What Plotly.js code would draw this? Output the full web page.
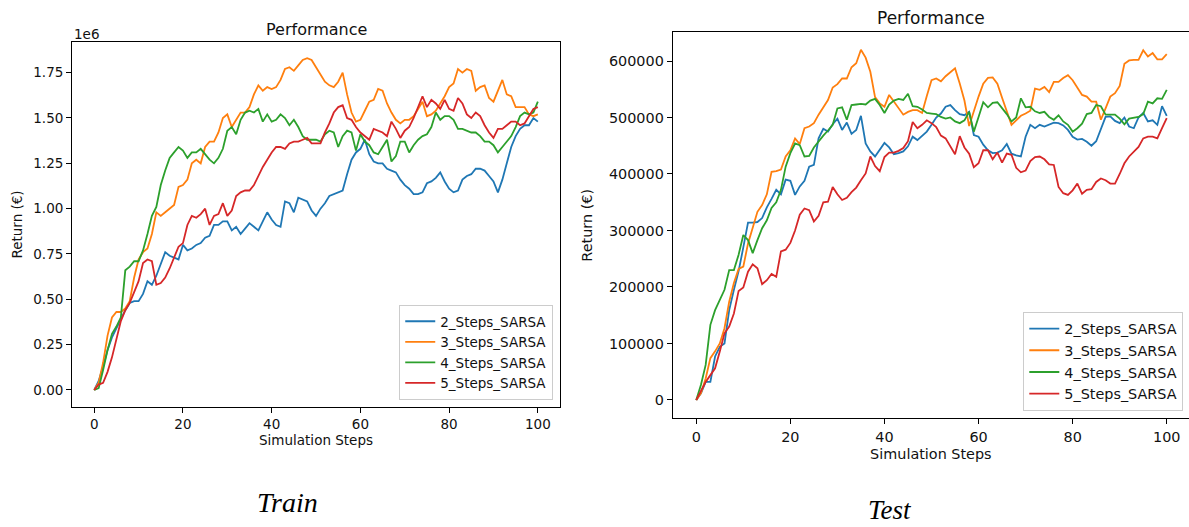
<!DOCTYPE html>
<html><head><meta charset="utf-8">
<script src="https://cdn.plot.ly/plotly-3.0.1.min.js"></script>
<style>html,body{margin:0;padding:0;background:#fff}#chart{width:1189px;height:527px}</style>
</head><body><div id="chart"></div>
<script>
// Simulation steps 0..100
const steps = [];
for (let i = 0; i <= 100; i++) steps.push(i);

const seriesNames = ['2_Steps_SARSA', '3_Steps_SARSA', '4_Steps_SARSA', '5_Steps_SARSA'];
const seriesColors = ['#1f77b4', '#ff7f0e', '#2ca02c', '#d62728'];

// Train returns (in units of 1e6 €)
const train2 = [0,0.05,0.13,0.22,0.29,0.34,0.39,0.44,0.48,0.49,0.49,0.53,0.60,0.58,0.63,0.70,0.76,0.74,0.73,0.72,
  0.80,0.77,0.78,0.80,0.81,0.84,0.85,0.91,0.91,0.93,0.93,0.88,0.90,0.86,0.89,0.92,0.90,0.88,0.93,0.98,
  0.94,0.91,0.90,1.04,1.03,0.98,1.06,1.05,1.04,0.99,0.96,1.00,1.03,1.07,1.08,1.09,1.10,1.19,1.27,1.31,
  1.33,1.38,1.30,1.26,1.25,1.25,1.22,1.21,1.20,1.16,1.13,1.11,1.08,1.08,1.09,1.14,1.15,1.17,1.20,1.15,
  1.11,1.09,1.10,1.16,1.18,1.19,1.22,1.22,1.21,1.18,1.15,1.09,1.16,1.25,1.34,1.40,1.44,1.46,1.46,1.50,1.48];
const train3 = [0,0.04,0.15,0.30,0.40,0.43,0.43,0.45,0.49,0.62,0.72,0.76,0.78,0.86,0.98,0.96,0.98,1.00,1.02,1.12,
  1.13,1.16,1.25,1.27,1.25,1.34,1.37,1.37,1.42,1.50,1.52,1.45,1.49,1.53,1.53,1.56,1.63,1.68,1.65,1.67,
  1.66,1.67,1.71,1.77,1.78,1.76,1.79,1.82,1.83,1.82,1.78,1.74,1.70,1.68,1.67,1.70,1.75,1.63,1.53,1.48,
  1.49,1.54,1.59,1.60,1.66,1.65,1.58,1.53,1.49,1.47,1.49,1.49,1.51,1.55,1.59,1.51,1.52,1.54,1.58,1.62,
  1.67,1.69,1.77,1.75,1.77,1.76,1.65,1.67,1.68,1.61,1.59,1.65,1.71,1.63,1.62,1.56,1.56,1.56,1.52,1.51,1.52];
const train4 = [0,0.01,0.11,0.22,0.31,0.35,0.40,0.66,0.68,0.71,0.71,0.77,0.86,0.96,1.01,1.13,1.21,1.28,1.31,1.34,
  1.32,1.28,1.31,1.31,1.33,1.30,1.27,1.25,1.28,1.33,1.43,1.45,1.41,1.49,1.53,1.54,1.53,1.55,1.48,1.52,
  1.48,1.49,1.52,1.50,1.46,1.49,1.45,1.40,1.38,1.38,1.38,1.37,1.41,1.43,1.42,1.34,1.40,1.43,1.42,1.32,
  1.41,1.37,1.35,1.31,1.30,1.34,1.38,1.26,1.29,1.37,1.37,1.31,1.35,1.38,1.40,1.41,1.45,1.53,1.49,1.51,
  1.51,1.49,1.44,1.44,1.43,1.42,1.42,1.40,1.37,1.37,1.35,1.31,1.34,1.37,1.40,1.45,1.51,1.53,1.52,1.53,1.59];
const train5 = [0,0.03,0.04,0.10,0.18,0.28,0.38,0.44,0.48,0.54,0.60,0.70,0.72,0.71,0.58,0.59,0.62,0.67,0.73,0.79,
  0.81,0.91,0.96,0.95,0.97,1.00,0.91,0.96,0.97,1.03,0.96,0.99,1.07,1.09,1.10,1.10,1.13,1.18,1.23,1.27,
  1.31,1.34,1.34,1.33,1.36,1.37,1.37,1.38,1.39,1.36,1.36,1.36,1.42,1.47,1.53,1.56,1.57,1.50,1.49,1.45,
  1.42,1.40,1.38,1.44,1.43,1.42,1.40,1.48,1.44,1.39,1.43,1.45,1.50,1.56,1.62,1.56,1.60,1.58,1.55,1.60,
  1.55,1.54,1.61,1.58,1.52,1.50,1.53,1.51,1.46,1.42,1.39,1.44,1.44,1.46,1.48,1.48,1.46,1.47,1.51,1.55,1.56];

// Test returns (€)
const test2 = [0,12000,32000,32000,77000,94000,100000,159000,195000,228000,270000,314000,314000,315000,322000,341000,356000,372000,364000,390000,
  388000,363000,378000,388000,413000,416000,463000,480000,475000,488000,498000,478000,491000,471000,478000,503000,454000,440000,431000,444000,
  455000,447000,435000,437000,440000,449000,466000,460000,468000,475000,487000,500000,507000,519000,522000,513000,506000,504000,510000,469000,
  466000,452000,442000,437000,438000,442000,453000,436000,433000,431000,466000,487000,481000,487000,484000,487000,491000,490000,486000,478000,
  466000,461000,462000,457000,450000,458000,478000,501000,502000,494000,490000,500000,484000,481000,500000,508000,493000,495000,487000,520000,503000];
const test3 = [0,12000,38000,74000,86000,100000,127000,174000,207000,232000,236000,277000,305000,333000,345000,364000,404000,405000,408000,431000,
  442000,463000,453000,481000,484000,490000,505000,518000,531000,553000,559000,569000,569000,589000,596000,620000,606000,581000,536000,525000,
  519000,540000,528000,515000,505000,510000,513000,513000,508000,538000,566000,569000,564000,573000,580000,587000,560000,530000,485000,513000,
  537000,560000,570000,571000,560000,535000,510000,487000,495000,503000,507000,512000,551000,549000,554000,545000,563000,563000,570000,575000,
  566000,553000,540000,537000,528000,528000,496000,516000,537000,543000,556000,595000,601000,602000,602000,619000,608000,614000,603000,603000,612000];
const test4 = [0,27000,62000,133000,159000,177000,195000,230000,230000,257000,292000,283000,260000,283000,304000,318000,340000,350000,372000,413000,
  437000,454000,451000,431000,432000,447000,458000,468000,477000,487000,516000,518000,496000,522000,523000,524000,523000,530000,533000,522000,
  508000,523000,530000,533000,531000,542000,520000,519000,514000,508000,507000,506000,501000,498000,500000,493000,490000,495000,510000,475000,
  501000,527000,518000,526000,527000,517000,506000,493000,500000,534000,518000,519000,511000,508000,510000,501000,496000,504000,493000,487000,
  475000,481000,489000,506000,508000,522000,520000,505000,505000,505000,498000,488000,498000,499000,501000,506000,528000,525000,534000,533000,549000];
const test5 = [0,15000,32000,44000,56000,86000,118000,130000,153000,193000,199000,227000,240000,233000,205000,212000,223000,218000,263000,266000,
  278000,300000,328000,339000,336000,316000,326000,350000,351000,377000,364000,354000,358000,368000,376000,389000,401000,431000,414000,405000,
  430000,438000,438000,441000,446000,458000,492000,481000,487000,495000,490000,483000,468000,463000,448000,435000,467000,447000,436000,412000,
  419000,442000,442000,426000,438000,420000,436000,434000,411000,403000,406000,423000,430000,431000,426000,417000,416000,377000,366000,363000,
  371000,383000,365000,372000,373000,386000,392000,389000,383000,383000,400000,419000,431000,440000,448000,463000,466000,466000,463000,481000,499000];

const trainSeries = [train2, train3, train4, train5];
const testSeries = [test2, test3, test4, test5];

const traces = [];
trainSeries.forEach((ys, i) => {
  traces.push({x: steps, y: ys, type: 'scatter', mode: 'lines', name: seriesNames[i],
    line: {color: seriesColors[i], width: 1.8}, xaxis: 'x', yaxis: 'y', legend: 'legend'});
});
testSeries.forEach((ys, i) => {
  traces.push({x: steps, y: ys, type: 'scatter', mode: 'lines', name: seriesNames[i],
    line: {color: seriesColors[i], width: 1.8}, xaxis: 'x2', yaxis: 'y2', legend: 'legend2'});
});

const txt = '#111111';
const fL = 13.5, fR = 14.4;
function ax(extra) {
  return Object.assign({showline: true, linecolor: '#000', linewidth: 1, mirror: true,
    ticks: 'outside', ticklen: 5, tickwidth: 1, tickcolor: '#000',
    showgrid: false, zeroline: false, fixedrange: true}, extra);
}

const layout = {
  width: 1189, height: 527,
  margin: {l: 0, r: 0, t: 0, b: 0},
  paper_bgcolor: '#ffffff', plot_bgcolor: '#ffffff',
  font: {family: 'DejaVu Sans', color: txt},
  showlegend: true,
  xaxis: ax({domain: [0.0606, 0.4710], range: [-5, 105], tick0: 0, dtick: 20, anchor: 'y',
    tickfont: {size: fL, color: txt},
    title: {text: 'Simulation Steps', font: {size: fL, color: txt}, standoff: 4}}),
  yaxis: ax({domain: [0.2277, 0.9203], range: [-0.0938, 1.919], tick0: 0, dtick: 0.25, tickformat: '.2f', anchor: 'x',
    tickfont: {size: fL, color: txt},
    title: {text: 'Return (€)', font: {size: fL, color: txt}, standoff: 7}}),
  xaxis2: ax({domain: [0.5658, 1], range: [-5, 104.73], tick0: 0, dtick: 20, anchor: 'y2',
    tickfont: {size: fR, color: txt},
    title: {text: 'Simulation Steps', font: {size: fR, color: txt}, standoff: 5}}),
  yaxis2: ax({domain: [0.2063, 0.9387], range: [-32400, 650800], tick0: 0, dtick: 100000, tickformat: 'd', anchor: 'x2',
    tickfont: {size: fR, color: txt},
    title: {text: 'Return (€)', font: {size: fR, color: txt}, standoff: 12}}),
  legend: {x: 0.4653, y: 0.241, xanchor: 'right', yanchor: 'bottom', bgcolor: 'rgba(255,255,255,0.85)',
    bordercolor: '#cccccc', borderwidth: 1, font: {size: fL, color: txt}, traceorder: 'normal'},
  legend2: {x: 0.9952, y: 0.2207, xanchor: 'right', yanchor: 'bottom', bgcolor: 'rgba(255,255,255,0.85)',
    bordercolor: '#cccccc', borderwidth: 1, font: {size: fR, color: txt}, traceorder: 'normal'},
  annotations: [
    {text: 'Performance', xref: 'paper', yref: 'paper', x: 0.2658, y: 0.9431, xanchor: 'center', yanchor: 'middle',
      showarrow: false, font: {size: 16, color: txt}},
    {text: 'Performance', xref: 'paper', yref: 'paper', x: 0.783, y: 0.9658, xanchor: 'center', yanchor: 'middle',
      showarrow: false, font: {size: 17, color: txt}},
    {text: '1e6', xref: 'paper', yref: 'paper', x: 0.0606, y: 0.9355, xanchor: 'left', yanchor: 'middle',
      showarrow: false, font: {size: fL, color: txt}},
    {text: '<i>Train</i>', xref: 'paper', yref: 'paper', x: 0.2422, y: 0.0474, xanchor: 'center', yanchor: 'middle',
      showarrow: false, font: {size: 28, family: 'Liberation Serif', color: '#000'}},
    {text: '<i>Test</i>', xref: 'paper', yref: 'paper', x: 0.7485, y: 0.0, xanchor: 'center', yanchor: 'bottom',
      showarrow: false, font: {size: 27, family: 'Liberation Serif', color: '#000'}}
  ]
};

Plotly.newPlot('chart', traces, layout, {displayModeBar: false, staticPlot: true});
</script>
</body></html>
